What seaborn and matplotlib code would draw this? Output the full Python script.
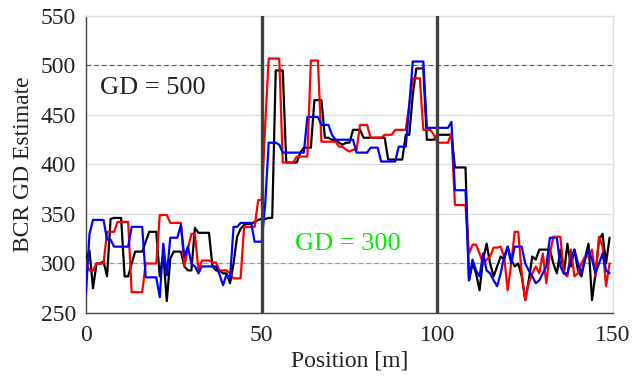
import numpy as np
import pandas as pd
import seaborn as sns
import matplotlib
matplotlib.use('Agg')
import matplotlib.pyplot as plt

sns.set_style('white')
plt.rcParams['font.family'] = ['Liberation Serif', 'DejaVu Serif']

position = list(range(150))

black = [305, 313, 275, 300, 300, 302, 287, 345, 346, 346,
         346, 287, 287, 300, 312, 312, 312, 322, 332, 332,
         332, 287, 310, 262, 305, 312, 312, 312, 297, 293,
         293, 336, 331, 331, 331, 331, 297, 293, 293, 290,
         290, 280, 300, 327, 335, 339, 340, 340, 342, 344,
         345, 345, 346, 346, 495, 495, 495, 402, 402, 402,
         402, 412, 417, 417, 417, 465, 465, 465, 427, 427,
         425, 425, 422, 420, 422, 422, 435, 435, 435, 427,
         427, 427, 427, 427, 427, 427, 405, 405, 405, 405,
         405, 430, 430, 470, 497, 497, 497, 425, 425, 425,
         430, 430, 430, 430, 430, 397, 397, 397, 397, 283,
         300, 290, 273, 304, 320, 300, 287, 297, 307, 304,
         317, 304, 297, 300, 287, 263, 283, 307, 304, 314,
         314, 314, 314, 300, 290, 314, 290, 320, 297, 314,
         293, 287, 305, 320, 263, 290, 324, 330, 300, 326]

red = [300, 293, 293, 300, 300, 300, 332, 332, 332, 342,
       342, 342, 342, 271, 271, 271, 271, 300, 300, 300,
       300, 349, 349, 349, 341, 341, 341, 341, 297, 315,
       330, 330, 293, 303, 303, 303, 301, 301, 293, 293,
       293, 290, 285, 285, 285, 337, 337, 337, 337, 364,
       364, 440, 507, 507, 507, 507, 402, 402, 402, 402,
       408, 408, 408, 408, 505, 505, 505, 423, 423, 423,
       423, 423, 418, 418, 415, 413, 415, 415, 440, 440,
       440, 427, 427, 427, 427, 430, 430, 430, 435, 435,
       435, 435, 460, 487, 487, 487, 435, 435, 435, 430,
       422, 422, 422, 422, 432, 359, 359, 359, 359, 310,
       319, 319, 310, 300, 304, 307, 316, 316, 317, 307,
       273, 300, 332, 332, 290, 263, 280, 290, 297, 290,
       310, 280, 310, 327, 327, 327, 290, 287, 314, 287,
       290, 300, 307, 307, 314, 287, 327, 317, 277, 300]

blue = [270, 330, 344, 344, 344, 344, 324, 324, 317, 317,
        317, 317, 317, 337, 337, 337, 337, 286, 286, 286,
        286, 266, 320, 288, 326, 326, 326, 339, 307, 317,
        300, 297, 290, 297, 297, 297, 297, 297, 289, 278,
        289, 285, 337, 337, 341, 341, 341, 341, 322, 322,
        322, 360, 422, 422, 422, 420, 412, 412, 412, 412,
        412, 412, 412, 448, 448, 448, 448, 440, 440, 440,
        430, 425, 425, 425, 425, 425, 425, 412, 412, 412,
        412, 417, 417, 417, 403, 403, 403, 403, 403, 418,
        418, 418, 460, 504, 504, 504, 504, 437, 437, 437,
        437, 437, 437, 437, 443, 374, 374, 374, 374, 283,
        304, 293, 287, 310, 293, 290, 283, 277, 290, 307,
        317, 300, 317, 317, 317, 300, 293, 287, 280, 283,
        290, 297, 326, 326, 326, 297, 290, 290, 304, 314,
        300, 290, 304, 314, 304, 290, 300, 310, 293, 290]

df = pd.DataFrame({
    'Position': position * 3,
    'GD': black + red + blue,
    'run': ['k'] * 150 + ['r'] * 150 + ['b'] * 150,
})

fig = plt.figure(figsize=(6.44, 3.77), dpi=100)
ax = fig.add_axes([0.1335, 0.1698, 0.8185, 0.7878])

ax.grid(True, color='#dddddd', linewidth=0.9)
ax.set_axisbelow(True)

ax.axhline(500, color='#555555', linestyle=(0, (4, 3)), linewidth=0.8, zorder=2)
ax.axhline(300, color='#33dd33', linestyle=(0, (4, 3)), linewidth=0.8, zorder=2)

sns.lineplot(data=df, x='Position', y='GD', hue='run',
             palette={'k': 'black', 'r': '#ff0000', 'b': '#0000ff'},
             linewidth=1.6, legend=False, ax=ax, zorder=3)

for xv in [50, 100]:
    ax.axvline(xv, color='#404040', linewidth=2.4, zorder=4)

ax.text(4, 477, 'GD = 500', fontsize=19, color='#222222', va='center')
ax.text(59.5, 320, 'GD = 300', fontsize=19, color='#00ee00', va='center')

ax.set_xlim(0, 150)
ax.set_ylim(250, 550)
ax.set_xticks([0, 50, 100, 150])
ax.set_yticks(range(250, 551, 50))
ax.set_xlabel('Position [m]', fontsize=17, color='#222222', labelpad=3)
ax.set_ylabel('BCR GD Estimate', fontsize=17, color='#222222', labelpad=5)
ax.tick_params(labelsize=17, direction='in', length=4, colors='#333333', labelcolor='#222222')
ax.tick_params(axis='x', pad=9)
ax.tick_params(axis='y', pad=7)

for s in ['left', 'bottom']:
    ax.spines[s].set_color('#444444')
    ax.spines[s].set_linewidth(1.0)
for s in ['top', 'right']:
    ax.spines[s].set_color('#dddddd')
    ax.spines[s].set_linewidth(1.0)

fig.savefig('out.png', dpi=100)
